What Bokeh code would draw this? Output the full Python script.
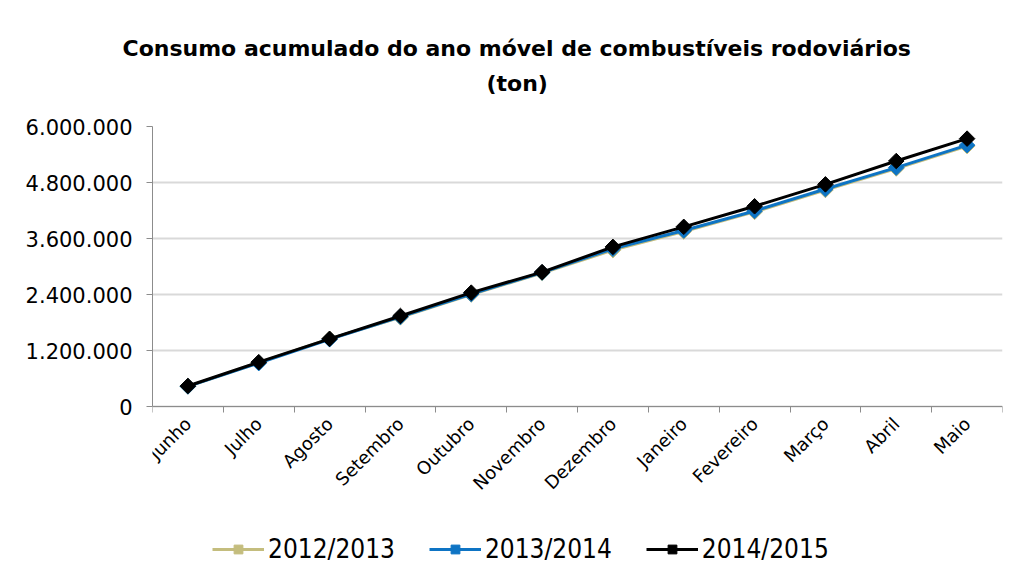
from bokeh.plotting import figure
from bokeh.models import FixedTicker, Legend, LegendItem, Range1d, ColumnDataSource, Title
from bokeh.embed import file_html
from bokeh.resources import INLINE
from math import pi

months = ["Junho", "Julho", "Agosto", "Setembro", "Outubro", "Novembro",
          "Dezembro", "Janeiro", "Fevereiro", "Março", "Abril", "Maio"]
series_names = ["2012/2013", "2013/2014", "2014/2015"]
s2012_2013 = [430000, 940000, 1450000, 1910000, 2400000, 2860000,
              3350000, 3750000, 4170000, 4640000, 5100000, 5580000]
s2013_2014 = [430000, 930000, 1440000, 1920000, 2410000, 2870000,
              3380000, 3770000, 4190000, 4660000, 5120000, 5600000]
s2014_2015 = [440000, 950000, 1450000, 1940000, 2440000, 2880000,
              3420000, 3850000, 4290000, 4760000, 5260000, 5740000]
y_ticks = [0, 1200000, 2400000, 3600000, 4800000, 6000000]
y_labels = ["0", "1.200.000", "2.400.000", "3.600.000", "4.800.000", "6.000.000"]
colors = ["#C4BD7E", "#0E74C4", "#000000"]

FONT = "DejaVu Sans"
NARROW = "'DejaVu Sans Condensed', 'DejaVu Sans'"

# the frame extends below zero so that the legend can sit under the rotated labels
p = figure(frame_width=850, frame_height=448,
           output_backend="svg", toolbar_location=None,
           x_range=Range1d(0, len(months)), y_range=Range1d(-3600000, 6000000),
           min_border_left=152, min_border_right=8, min_border_top=126,
           min_border_bottom=0)
p.outline_line_color = None
p.background_fill_color = "white"
p.border_fill_color = "white"

# first title line (outermost)
p.title.text = "Consumo acumulado do ano móvel de combustíveis rodoviários"
p.title.align = "left"
p.title.offset = -30
p.title.text_font = FONT
p.title.text_font_style = "bold"
p.title.text_font_size = "22px"
p.title.text_color = "#000000"
p.title.standoff = -46
# second title line (closer to the frame)
t2 = Title(text="(ton)", align="left", offset=334, text_font=FONT,
           text_font_style="bold", text_font_size="22px", text_color="#000000",
           standoff=62)
p.add_layout(t2, "above")

xs = [i + 0.5 for i in range(len(months))]

# x axis, drawn at y = 0
p.xaxis.fixed_location = 0
p.xaxis.ticker = FixedTicker(ticks=xs, minor_ticks=list(range(len(months) + 1)))
p.xaxis.major_label_overrides = {x: m for x, m in zip(xs, months)}
p.xaxis.major_label_orientation = pi / 4
p.xaxis.major_tick_line_color = None
p.xaxis.minor_tick_line_color = "#8C8C8C"
p.xaxis.minor_tick_out = 6
p.xaxis.minor_tick_in = 0
p.xaxis.axis_line_color = "#8C8C8C"
p.xaxis.major_label_text_font = FONT
p.xaxis.major_label_text_font_size = "18px"
p.xaxis.major_label_text_color = "#000000"
p.xaxis.major_label_standoff = 8

# y axis
p.yaxis.ticker = FixedTicker(ticks=y_ticks)
p.yaxis.bounds = (0, 6000000)
p.yaxis.major_label_overrides = {t: l for t, l in zip(y_ticks, y_labels)}
p.yaxis.axis_line_color = "#8C8C8C"
p.yaxis.major_tick_line_color = "#8C8C8C"
p.yaxis.major_tick_out = 6
p.yaxis.major_tick_in = 0
p.yaxis.minor_tick_line_color = None
p.yaxis.major_label_text_font = FONT
p.yaxis.major_label_text_font_size = "21px"
p.yaxis.major_label_text_color = "#000000"
p.yaxis.major_label_standoff = 14

p.xgrid.grid_line_color = None
p.ygrid.grid_line_color = "#D9D9D9"
p.ygrid.grid_line_width = 2

items = []
for name, vals, col in zip(series_names, [s2012_2013, s2013_2014, s2014_2015], colors):
    src = ColumnDataSource(dict(x=xs, y=vals))
    ln = p.line("x", "y", source=src, line_color=col, line_width=3)
    mk = p.scatter("x", "y", source=src, marker="square", size=11, angle=pi / 4,
                   fill_color=col, line_color=col)
    items.append(LegendItem(label=name, renderers=[ln, mk]))

legend = Legend(items=items, orientation="horizontal", location=(60, 10),
                glyph_width=52, glyph_height=22, spacing=34, label_standoff=4,
                label_text_font=NARROW, label_text_font_size="26px",
                label_text_color="#000000", border_line_color=None,
                background_fill_alpha=0, padding=2, margin=0)
p.add_layout(legend, "center")

open("out.html", "w").write(file_html(p, INLINE))
